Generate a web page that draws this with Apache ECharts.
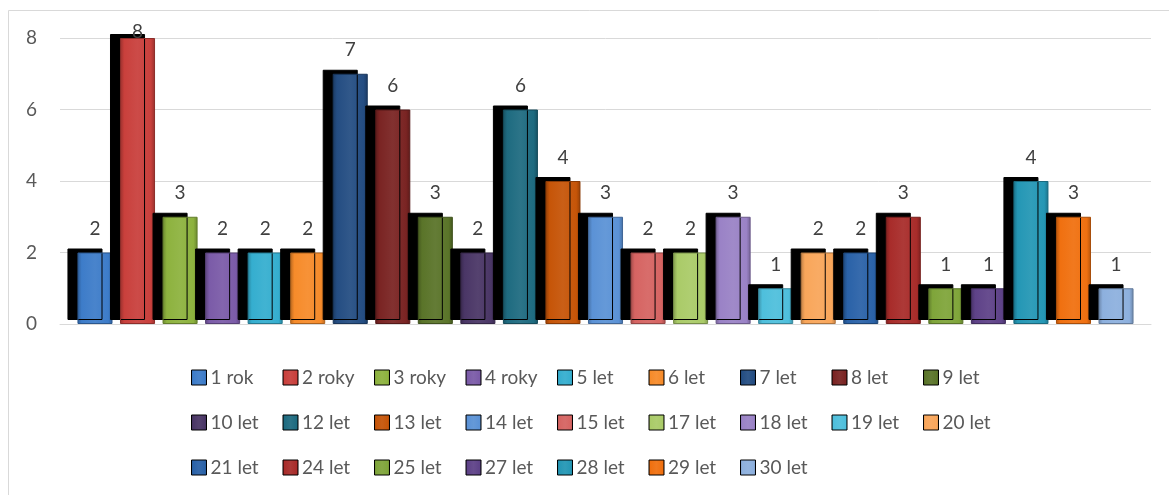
<!DOCTYPE html>
<html>
<head>
<meta charset="utf-8">
<script src="https://cdn.jsdelivr.net/npm/echarts@6/dist/echarts.min.js"></script>
<style>
html,body{margin:0;padding:0;background:#fff;}
#chart{width:1169px;height:495px;}
</style>
</head>
<body>
<div id="chart"></div>
<script>
const seriesNames = ['1 rok','2 roky','3 roky','4 roky','5 let','6 let','7 let','8 let','9 let','10 let','12 let','13 let','14 let','15 let','17 let','18 let','19 let','20 let','21 let','24 let','25 let','27 let','28 let','29 let','30 let'];
const seriesValues = [2,8,3,2,2,2,7,6,3,2,6,4,3,2,2,3,1,2,2,3,1,1,4,3,1];
const seriesColors = ['#3D7CC9','#C9403C','#8DB23E','#7B5BA8','#35AECF','#F68B2A','#244D82','#7A2423','#5A7429','#4A3666','#1E6B80','#C65508','#5B92D6','#D66462','#AACB68','#9A82C6','#4EBFDC','#F9A65A','#2A62A8','#A82C2A','#7FA53A','#5E4288','#2497B5','#F07010','#8DB0DE'];
const yTicks = {min: 0, max: 8, interval: 2};
const categories = [''];

function shade(hex, f) {
  const n = parseInt(hex.slice(1), 16);
  let r = (n >> 16) & 255, g = (n >> 8) & 255, b = n & 255;
  const m = c => Math.max(0, Math.min(255, Math.round(f < 0 ? c * (1 + f) : c + (255 - c) * f)));
  return 'rgb(' + m(r) + ',' + m(g) + ',' + m(b) + ')';
}

const chart = echarts.init(document.getElementById('chart'), null, {renderer: 'canvas'});
const FONT = 'Lato, "Open Sans", sans-serif';

const series = seriesNames.map((name, i) => ({
  name: name,
  type: 'bar',
  data: [seriesValues[i]],
  barGap: '21.4%',
  barCategoryGap: '3.2%',
  itemStyle: {
    color: {
      type: 'linear', x: 0, y: 0, x2: 1, y2: 0,
      colorStops: [
        {offset: 0, color: shade(seriesColors[i], -0.25)},
        {offset: 0.12, color: seriesColors[i]},
        {offset: 0.5, color: shade(seriesColors[i], 0.06)},
        {offset: 0.88, color: seriesColors[i]},
        {offset: 1, color: shade(seriesColors[i], -0.25)}
      ]
    },
    borderColor: shade(seriesColors[i], -0.3),
    borderWidth: 1,
    shadowColor: '#000',
    shadowBlur: 0,
    shadowOffsetX: -10,
    shadowOffsetY: -4
  },
  label: {
    show: true,
    position: 'top',
    distance: seriesValues[i] >= yTicks.max ? -3 : 14,
    color: '#404040',
    fontFamily: FONT,
    fontSize: 19
  }
}));

chart.setOption({
  animation: false,
  backgroundColor: '#fff',
  graphic: [{
    type: 'rect',
    shape: {x: 8.5, y: 10.5, width: 1200, height: 520},
    style: {fill: 'none', stroke: '#d9d9d9', lineWidth: 1},
    silent: true,
    z: -10
  }],
  grid: {left: 60, right: 18, top: 38, bottom: 171},
  legend: {
    data: seriesNames,
    left: 186,
    top: 355,
    width: 850,
    orient: 'horizontal',
    itemWidth: 15,
    itemHeight: 15,
    itemGap: 10,
    icon: 'rect',
    itemStyle: {borderColor: '#000', borderWidth: 1, shadowColor: 'transparent', shadowBlur: 0, shadowOffsetX: 0, shadowOffsetY: 0},
    textStyle: {fontFamily: FONT, fontSize: 19, color: '#595959', width: 62, lineHeight: 35, padding: [0,0,0,-1]}
  },
  xAxis: {
    type: 'category',
    data: categories,
    axisLine: {show: true, lineStyle: {color: '#d9d9d9', width: 1}},
    axisTick: {show: false},
    axisLabel: {show: false}
  },
  yAxis: {
    type: 'value',
    min: yTicks.min,
    max: yTicks.max,
    interval: yTicks.interval,
    axisLine: {show: false},
    axisTick: {show: false},
    splitLine: {lineStyle: {color: '#d9d9d9', width: 1}},
    axisLabel: {fontFamily: FONT, fontSize: 19, color: '#595959', margin: 23}
  },
  series: series
});
</script>
</body>
</html>
